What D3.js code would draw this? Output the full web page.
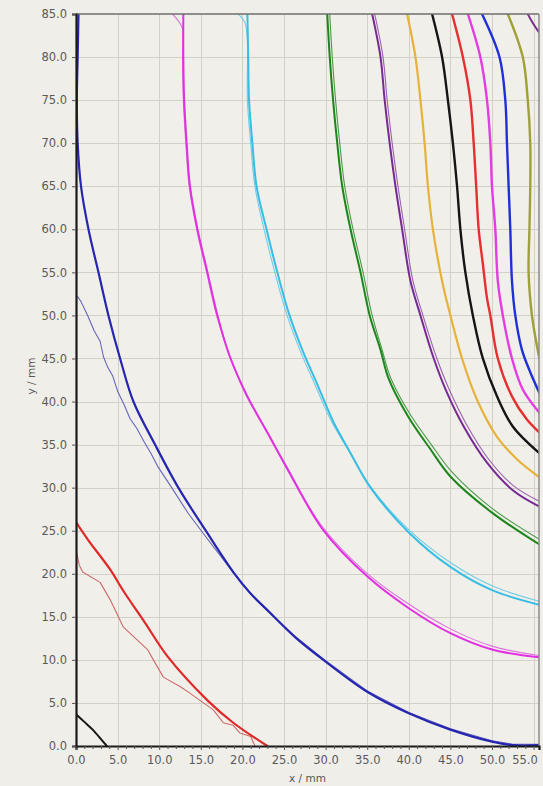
<!DOCTYPE html>
<html><head><meta charset="utf-8">
<script src="https://cdn.jsdelivr.net/npm/d3@7/dist/d3.min.js"></script>
<style>
html,body{margin:0;padding:0;background:#f0eee8;}
svg{display:block;}
</style></head>
<body>
<svg id="chart" width="543" height="786"></svg>
<script>
// ---- data ----
const xTicks = [0,5,10,15,20,25,30,35,40,45,50,55];
const yTicks = [0,5,10,15,20,25,30,35,40,45,50,55,60,65,70,75,80,85];
const xMinorTicks = d3.range(0, 56, 1);
const xDomain = [0, 55.65];
const yDomain = [0, 85];

const blackLow = [[0,3.7],[1,2.8],[2,1.9],[3,0.8],[3.7,0]];
const redMain = [[0,26],[1.4,24],[4.1,20.5],[5.7,18],[8.3,14.3],[11,10.4],[15.8,5.3],[18.9,2.7],[23,0]];
const redThin = [[0,22.8],[0.4,21],[0.8,20.2],[2.9,19],[4.1,17],[5.7,13.8],[7.7,12],[8.6,11.2],[9.3,10],[10.5,8],[12.5,6.9],[13.6,6.2],[14.9,5.3],[16.5,4.2],[17.7,2.7],[18.9,2.4],[19.7,1.5],[21,1.1],[21.5,0]];
const blueMain = [[0.3,85],[0.2,80],[0.1,75],[0.2,70],[0.6,65],[1.5,60],[2.7,55],[3.9,50],[5.3,45],[6.9,40],[9.5,35],[12.3,30],[15.6,25],[18.9,20.2],[20.9,17.8],[23.3,15.5],[26.5,12.5],[30,9.8],[35,6.3],[40,3.8],[45,1.9],[50,0.5],[52.5,0.1],[55.7,0.1]];
const blueThin = [[0.2,52.2],[0.6,51.6],[1.4,50],[2.2,48.2],[2.9,47],[3.3,45.2],[3.8,44],[4.4,43],[5,41.2],[5.8,39.6],[6.5,38],[7.3,36.9],[8.2,35.3],[9,34],[9.8,32.5],[11.5,30],[13.5,27],[15.6,24.3],[18.7,20.4],[21,17.7],[23.3,15.4],[26.5,12.6],[30,9.9],[35,6.4],[40,3.9],[45,2],[50,0.6],[52.5,0.2],[55.7,0.2]];
const magentaMain = [[12.9,85],[12.9,80],[13,75],[13.3,70],[13.7,65],[14.6,60],[15.8,55],[17,50],[18.5,45.2],[20.6,40.6],[23,36.4],[25.5,32],[29.7,25.1],[35,19.7],[40,16],[45,13.1],[50,11.2],[55.7,10.3]];
const magentaThin = [[11.6,85],[12.3,84.2],[12.8,83.3],[12.8,80],[12.9,75],[13.2,70],[13.6,65],[14.5,60],[15.7,55],[16.9,50],[18.4,45.5],[20.3,41],[22.8,36.8],[25.3,32.5],[29.5,25.6],[34.8,20.2],[39.8,16.6],[45,13.6],[50,11.6],[55.7,10.5]];
const cyanMain = [[20.6,85],[20.7,80],[20.8,75],[21.2,70],[21.7,65],[22.9,60],[24.2,55],[25.5,50.5],[27.2,46],[29,42],[31,37.5],[33,34],[35.4,30],[40,24.8],[45,20.8],[50,18.1],[55.7,16.4]];
const cyanThin = [[19.5,85],[20.3,84],[20.6,82],[20.6,75],[21,70],[21.5,65],[22.6,60],[23.9,55],[25.2,50.5],[26.9,46],[28.7,42],[30.7,37.7],[32.8,34.3],[35.2,30.4],[39.8,25.3],[45,21.3],[50,18.6],[55.7,16.8]];
const greenMain = [[30.2,85],[30.5,80],[30.9,75],[31.4,70],[32,65],[33,60],[34.2,55],[35.3,50],[36.6,46],[37.6,42.6],[39.9,38.3],[42.5,34.6],[45,31.3],[50,27.1],[55.7,23.4]];
const greenThin = [[30.5,85],[30.8,80],[31.2,75],[31.7,70],[32.3,65],[33.3,60],[34.5,55],[35.6,50],[36.8,46],[37.8,42.8],[40.1,38.6],[42.7,35],[45.2,31.8],[50,27.6],[55.7,24]];
const purpleMain = [[35.6,85],[36.6,80],[37.1,75],[37.7,70],[38.4,65],[39.2,60],[40.2,54],[41.4,50],[43,45],[44.6,41],[46.6,37.1],[49.4,32.9],[52.5,29.7],[55.7,27.8]];
const purpleThin = [[35.9,85],[36.9,80],[37.4,75],[38,70],[38.7,65],[39.5,60],[40.5,54],[41.7,50],[43.3,45.2],[44.9,41.3],[46.9,37.4],[49.6,33.3],[52.6,30.2],[55.7,28.4]];
const orangeMain = [[39.8,85],[40.8,80],[41.4,75],[41.9,70],[42.3,65],[42.9,60],[44,54],[45,50],[46.4,45],[48.2,40.2],[50.6,35.9],[53,33.3],[55.7,31.2]];
const blackMain = [[42.8,85],[44,80],[44.7,75],[45.3,70],[45.8,65],[46.2,60],[46.8,55],[47.7,50],[48.9,45],[50.6,40.6],[52.5,37.1],[55.7,34]];
const red2Main = [[45.2,85],[46.5,80],[47.4,75],[47.8,70],[48.1,65],[48.4,60],[48.9,56],[49.4,52],[49.8,50],[50.7,45],[52.4,40.6],[54.2,37.9],[55.7,36.4]];
const magenta2Main = [[47.1,85],[48.6,80],[49.4,75],[49.8,70],[50,65],[50.4,60],[50.7,54],[51.3,50],[52.4,45],[53.7,41.4],[55.7,38.7]];
const blue2Main = [[48.8,85],[50.9,80],[51.6,75],[51.8,70],[52,65],[52.2,60],[52.4,54],[52.8,50],[53.6,46],[54.6,43.4],[55.7,41]];
const oliveMain = [[51.9,85],[53.7,80],[54.3,75],[54.6,70],[54.6,65],[54.5,60],[54.4,55],[54.8,50],[55.3,47],[55.7,45]];
const purpleTop = [[54.3,85],[55,83.8],[55.7,82.8]];

// ---- styles (kept apart from data) ----
const seriesList = [
  {data: blackLow, color: "#151515", w: 2, curve: "smooth"},
  {data: redThin, color: "#cc6a6a", w: 1.1, curve: "linear"},
  {data: redMain, color: "#e02828", w: 2.2, curve: "smooth"},
  {data: blueThin, color: "#6464bc", w: 1.1, curve: "linear"},
  {data: blueMain, color: "#2626b0", w: 2.2, curve: "smooth"},
  {data: magentaThin, color: "#e070e0", w: 1.1, curve: "smooth"},
  {data: magentaMain, color: "#e030e0", w: 2, curve: "smooth"},
  {data: cyanThin, color: "#70cde8", w: 1.1, curve: "smooth"},
  {data: cyanMain, color: "#38bde4", w: 2, curve: "smooth"},
  {data: greenThin, color: "#4a9a4a", w: 1.1, curve: "smooth"},
  {data: greenMain, color: "#1c861c", w: 2, curve: "smooth"},
  {data: purpleThin, color: "#9a60b0", w: 1.1, curve: "smooth"},
  {data: purpleMain, color: "#762a94", w: 2, curve: "smooth"},
  {data: orangeMain, color: "#e6b23a", w: 2.2, curve: "smooth"},
  {data: blackMain, color: "#151515", w: 2.4, curve: "smooth"},
  {data: red2Main, color: "#e43030", w: 2.4, curve: "smooth"},
  {data: magenta2Main, color: "#e23ce2", w: 2.4, curve: "smooth"},
  {data: blue2Main, color: "#2030d8", w: 2.4, curve: "smooth"},
  {data: oliveMain, color: "#a0a038", w: 2.4, curve: "smooth"},
  {data: purpleTop, color: "#7a3090", w: 2, curve: "smooth"}
];

// ---- layout ----
const svg = d3.select("#chart");
const L = 76, R = 539, T = 14, B = 746;
const x = d3.scaleLinear().domain(xDomain).range([L, R]);
const y = d3.scaleLinear().domain(yDomain).range([B, T]);

svg.append("rect").attr("width",543).attr("height",786).attr("fill","#f0eee8");
svg.append("rect").attr("x",L).attr("y",T).attr("width",R-L).attr("height",B-T).attr("fill","#f1efe9");

// grid
const grid = svg.append("g");
grid.selectAll("line.vx").data(xTicks.filter(d=>d>0)).join("line")
  .attr("x1",d=>Math.round(x(d))+0.5).attr("x2",d=>Math.round(x(d))+0.5)
  .attr("y1",T).attr("y2",B).attr("stroke","#d3d0c8").attr("stroke-width",1);
grid.selectAll("line.hy").data(yTicks.filter(d=>d>0 && d<85)).join("line")
  .attr("y1",d=>Math.round(y(d))+0.5).attr("y2",d=>Math.round(y(d))+0.5)
  .attr("x1",L).attr("x2",R).attr("stroke","#d3d0c8").attr("stroke-width",1);

// clip
svg.append("clipPath").attr("id","clip").append("rect")
  .attr("x",L).attr("y",T).attr("width",R-L).attr("height",B-T);

const gLines = svg.append("g").attr("clip-path","url(#clip)");
seriesList.forEach(s => {
  const line = d3.line().x(d=>x(d[0])).y(d=>y(d[1]))
    .curve(s.curve === "linear" ? d3.curveLinear : d3.curveCatmullRom.alpha(0.5));
  gLines.append("path").datum(s.data).attr("d", line)
    .attr("fill","none").attr("stroke", s.color).attr("stroke-width", s.w)
    .attr("stroke-linejoin","round").attr("stroke-linecap","round");
});

// frame
svg.append("line").attr("x1",L).attr("x2",R).attr("y1",T).attr("y2",T).attr("stroke","#6e6e6e").attr("stroke-width",1.5);
svg.append("line").attr("x1",R).attr("x2",R).attr("y1",T).attr("y2",B).attr("stroke","#8a8a8a").attr("stroke-width",1.5);

// axes
const xAxis = d3.axisBottom(x).tickValues(xTicks).tickFormat(d3.format(".1f")).tickSize(4).tickPadding(6);
const gx = svg.append("g").attr("transform",`translate(0,${B})`).call(xAxis);
const xMinor = d3.axisBottom(x).tickValues(xMinorTicks.filter(d=>d%5!==0)).tickFormat("").tickSize(3);
svg.append("g").attr("transform",`translate(0,${B})`).call(xMinor).select(".domain").remove();

const yAxis = d3.axisLeft(y).tickValues(yTicks).tickFormat(d3.format(".1f")).tickSize(4).tickPadding(5);
const gy = svg.append("g").attr("transform",`translate(${L},0)`).call(yAxis);

svg.selectAll(".domain").attr("stroke","#1a1a1a").attr("stroke-width",2.2);
svg.selectAll(".tick line").attr("stroke","#555");
svg.selectAll(".tick text").attr("fill","#5a5a5a")
  .style("font-family","'DejaVu Sans', sans-serif").style("font-size","11.5px");
// keep the last x label inside the window
gx.selectAll(".tick text").filter(d => d === 55).attr("text-anchor","end").attr("dx", "0.32em");

// titles
svg.append("text").attr("x",(L+R)/2).attr("y",782).attr("text-anchor","middle")
  .attr("fill","#555").style("font-family","'DejaVu Sans', sans-serif").style("font-size","10.5px")
  .text("x / mm");
svg.append("text").attr("transform",`translate(35,${(T+B)/2-4}) rotate(-90)`).attr("text-anchor","middle")
  .attr("fill","#555").style("font-family","'DejaVu Sans', sans-serif").style("font-size","10.5px")
  .text("y / mm");
</script>
</body></html>
